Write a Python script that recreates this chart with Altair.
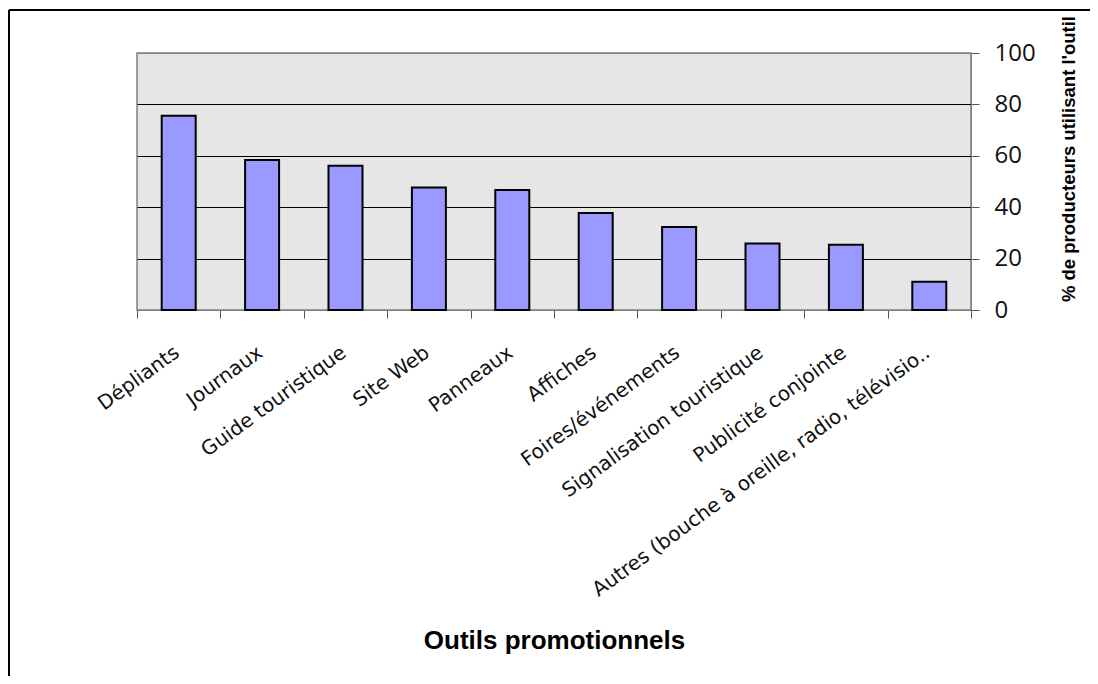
import altair as alt
import pandas as pd

categories = ["Dépliants", "Journaux", "Guide touristique", "Site Web", "Panneaux",
              "Affiches", "Foires/événements", "Signalisation touristique",
              "Publicité conjointe", "Autres (bouche à oreille, radio, télévisio.."]
values = [75.6, 58.4, 56.1, 47.7, 46.7, 37.7, 32.3, 25.9, 25.4, 11.0]
y_ticks = [0, 20, 40, 60, 80, 100]

df = pd.DataFrame({"cat": categories, "val": values})

LABEL_FONT = "DejaVu Sans"
TICK_FONT = "Open Sans"
TITLE_FONT = "Liberation Sans"

bars = alt.Chart(df).mark_bar(
    width=34, color="#9999FF", stroke="black", strokeWidth=2
).encode(
    x=alt.X("cat:N", sort=categories,
            scale=alt.Scale(paddingInner=0, paddingOuter=0),
            axis=alt.Axis(title="Outils promotionnels", titleFont=TITLE_FONT,
                          titleFontSize=26, titleFontWeight="bold", titleColor="black",
                          titleY=330, titleBaseline="middle",
                          labelAngle=324, labelAlign="right", labelBaseline="top",
                          labelOffset=-8, labelPadding=24, labelFont=LABEL_FONT,
                          labelFontSize=20, labelColor="#111111", labelLimit=700,
                          tickBand="extent", tickSize=8, tickColor="#555555",
                          domainColor="#808080", grid=False)),
    y=alt.Y("val:Q", scale=alt.Scale(domain=[0, 100], nice=False),
            axis=alt.Axis(orient="right", values=y_ticks, title="% de producteurs utilisant l'outil",
                          titleFont=TITLE_FONT, titleFontSize=18.5, titleFontWeight="bold",
                          titleColor="black", titleAngle=270, titleX=97, titleY=105.5,
                          titleAlign="center", titleBaseline="middle",
                          labelFont=TICK_FONT, labelFontSize=24, labelColor="#111111",
                          labelPadding=15, labelAlign="left", labelBaseline="middle",
                          tickSize=8, tickColor="#555555", domainColor="#808080",
                          grid=True, gridWidth=1,
                          gridColor=alt.condition("datum.value == 100", alt.value("#808080"), alt.value("black"))))
)

frame_left = alt.Chart(df).mark_rule(color="black", strokeWidth=1.5).encode(
    x=alt.value(-128), y=alt.value(-43), y2=alt.value(800))
frame_top = alt.Chart(df).mark_rule(color="black", strokeWidth=1.5).encode(
    x=alt.value(-128), x2=alt.value(1200), y=alt.value(-43))

chart = alt.layer(bars, frame_left, frame_top).properties(
    width=834, height=257,
    autosize=alt.AutoSizeParams(type="none"),
    padding={"left": 129, "top": 45, "right": 119, "bottom": 366},
    background="white",
).configure_view(fill="#e6e6e6", stroke="#808080", strokeWidth=1.5)

chart.save("out.html", embed_options={"renderer": "svg", "actions": False})
